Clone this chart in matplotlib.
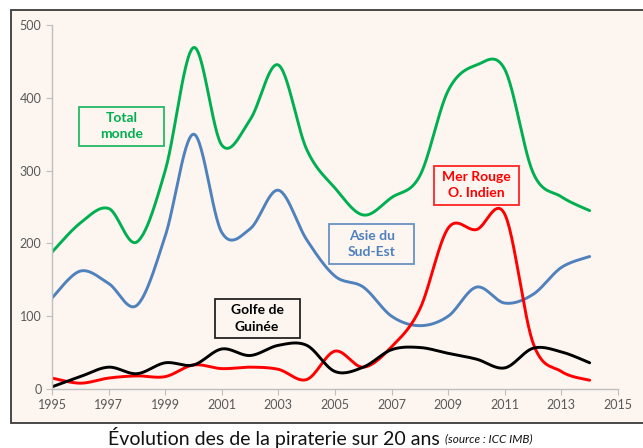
import numpy as np
import matplotlib
matplotlib.use("Agg")
import matplotlib.pyplot as plt
from matplotlib.patches import Rectangle

years = list(range(1995, 2015))
total_monde = [188, 228, 248, 202, 300, 469, 335, 370, 445, 329,
               276, 239, 263, 293, 410, 445, 439, 297, 264, 245]
asie_sud_est = [125, 162, 145, 115, 210, 350, 215, 220, 273, 205,
                155, 140, 100, 87, 100, 140, 118, 130, 167, 182]
mer_rouge = [15, 8, 15, 18, 17, 33, 28, 30, 27, 13,
             52, 30, 58, 110, 221, 219, 240, 63, 24, 12]
golfe_guinee = [3, 17, 30, 21, 36, 33, 55, 46, 60, 60,
                24, 30, 54, 57, 49, 41, 29, 56, 51, 36]

series = [
    ("Total\nmonde", total_monde, "#00B050"),
    ("Asie du\nSud-Est", asie_sud_est, "#4F81BD"),
    ("Mer Rouge\nO. Indien", mer_rouge, "#FF0000"),
    ("Golfe de\nGuinée", golfe_guinee, "#000000"),
]
label_pos = {
    "Total\nmonde": (1997.45, 361),
    "Asie du\nSud-Est": (2006.3, 199),
    "Mer Rouge\nO. Indien": (2010.0, 280),
    "Golfe de\nGuinée": (2002.25, 97),
}
box_w, box_h = 3.0, 54  # label box size in data units


def smooth(x, y, n=30):
    # Catmull-Rom style smoothing, like an office "smoothed line"
    x = np.asarray(x, float)
    y = np.asarray(y, float)
    px = np.concatenate([[x[0]], x, [x[-1]]])
    py = np.concatenate([[y[0]], y, [y[-1]]])
    xs, ys = [], []
    t = np.linspace(0, 1, n)
    for i in range(1, len(px) - 2):
        p0 = np.array([px[i], py[i]])
        p3 = np.array([px[i + 1], py[i + 1]])
        p1 = p0 + (p3 - np.array([px[i - 1], py[i - 1]])) / 6
        p2 = p3 - (np.array([px[i + 2], py[i + 2]]) - p0) / 6
        b = ((1 - t) ** 3)[:, None] * p0 + (3 * (1 - t) ** 2 * t)[:, None] * p1 \
            + (3 * (1 - t) * t ** 2)[:, None] * p2 + (t ** 3)[:, None] * p3
        xs.append(b[:, 0])
        ys.append(b[:, 1])
    return np.concatenate(xs), np.concatenate(ys)


plt.rcParams['font.family'] = ['Lato', 'DejaVu Sans']

fig = plt.figure(figsize=(6.43, 4.48), dpi=100)
fig.patches.append(Rectangle((11 / 643, 1 - 423 / 448), 640 / 643, 413 / 448,
                             transform=fig.transFigure, facecolor="#FCF5F0",
                             edgecolor="#3A3A3A", lw=1.3, zorder=-10))

ax = fig.add_axes([52 / 643, 1 - 389 / 448, 566 / 643, 364 / 448])
ax.set_facecolor("none")

for name, vals, col in series:
    sx, sy = smooth(years, vals)
    ax.plot(sx, sy, color=col, lw=2.1, solid_capstyle="round")
    lx, ly = label_pos[name]
    ax.text(lx, ly, name, color=col, fontsize=10, fontweight="bold",
            ha="center", va="center", linespacing=1.45)
    ax.add_patch(Rectangle((lx - box_w / 2, ly - box_h / 2), box_w, box_h,
                           facecolor="none", edgecolor=col, lw=1.3,
                           alpha=0.85, clip_on=False))

ax.set_xlim(1995, 2015)
ax.set_ylim(0, 500)
ax.set_xticks(range(1995, 2016, 2))
ax.set_yticks(range(0, 501, 100))
for s in ["top", "right"]:
    ax.spines[s].set_visible(False)
for s in ["left", "bottom"]:
    ax.spines[s].set_color("#BFBFBF")
    ax.spines[s].set_linewidth(1.0)
ax.tick_params(colors="#BFBFBF", labelcolor="#595959", labelsize=9,
               length=4, direction="out")

t1 = fig.text(108 / 643, 1 - 437 / 448, "Évolution des de la piraterie sur 20 ans ",
              ha="left", va="center", fontsize=14, color="#111111")
fig.canvas.draw()
bb = t1.get_window_extent()
fig.text(bb.x1 / fig.bbox.width, 1 - 439 / 448, "(source : ICC IMB)",
         ha="left", va="center", fontsize=8.5, style="italic", color="#111111")

fig.savefig("out.png", dpi=100)
